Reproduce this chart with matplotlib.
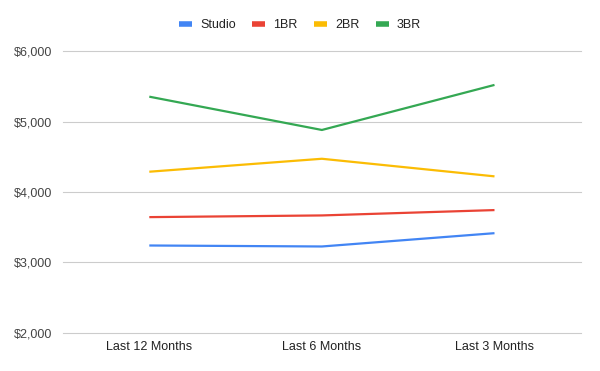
import matplotlib
matplotlib.use('Agg')
from matplotlib import pyplot as plt
from matplotlib.ticker import FuncFormatter

periods = ['Last 12 Months', 'Last 6 Months', 'Last 3 Months']
studio = [3240, 3226, 3415]
br1 = [3643, 3667, 3743]
br2 = [4288, 4472, 4222]
br3 = [5354, 4881, 5521]

series = [('Studio', studio, '#4285F4'),
          ('1BR', br1, '#EA4335'),
          ('2BR', br2, '#FBBC04'),
          ('3BR', br3, '#34A853')]

plt.rcParams['font.family'] = ['Liberation Sans', 'DejaVu Sans']

fig = plt.figure(figsize=(6, 3.71), dpi=100)
ax = fig.add_axes([0.105, 0.103, 0.863, 0.759])

x = range(len(periods))
for name, vals, color in series:
    ax.plot(x, vals, color=color, linewidth=1.6, label=name, solid_capstyle='butt')

ax.set_xlim(-0.5, 2.5)
ax.set_ylim(2000, 6000)
ax.set_yticks([2000, 3000, 4000, 5000, 6000])
ax.yaxis.set_major_formatter(FuncFormatter(lambda v, p: f'${v:,.0f}'))
ax.set_xticks(list(x))
ax.set_xticklabels(periods)
ax.grid(axis='y', color='#cccccc', linewidth=0.8)
for gl in ax.get_ygridlines():
    gl.set_clip_on(False)
ax.set_axisbelow(True)
for s in ax.spines.values():
    s.set_visible(False)
ax.tick_params(axis='both', length=0, labelsize=9, colors='#444444')
ax.tick_params(axis='y', pad=8)
ax.tick_params(axis='x', pad=6, labelcolor='#222222')

fig.legend(loc='center', bbox_to_anchor=(0.5, 0.932), ncol=4, frameon=False,
           fontsize=9, handlelength=1.05, handletextpad=0.65, columnspacing=1.3,
           labelcolor='#222222')
leg = fig.legends[0]
for h in leg.legend_handles:
    h.set_linewidth(4)

fig.savefig('out.png', dpi=100)
